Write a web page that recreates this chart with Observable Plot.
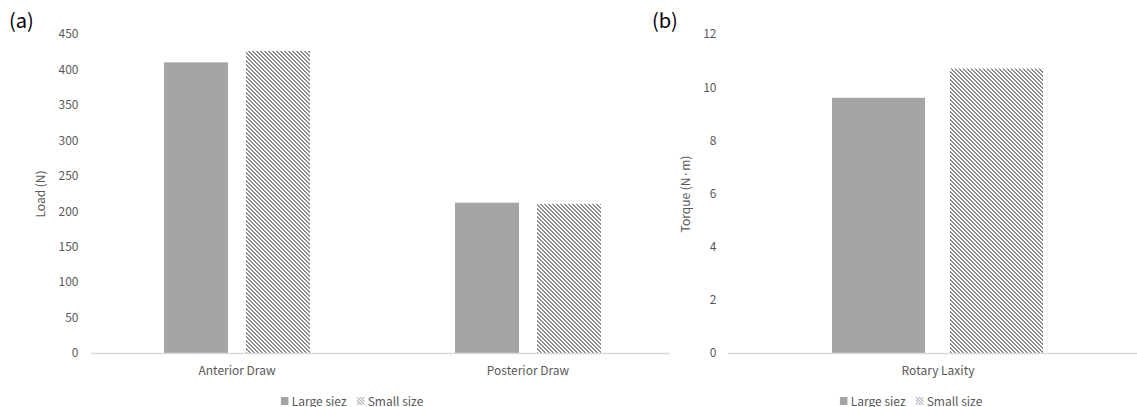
<!DOCTYPE html>
<html>
<head>
<meta charset="utf-8">
<script src="https://cdn.jsdelivr.net/npm/d3@7"></script>
<script src="https://cdn.jsdelivr.net/npm/@observablehq/plot@0.6"></script>
<style>
  html, body { margin: 0; padding: 0; background: #fff; overflow: hidden; }
  body { width: 1137px; height: 407px; position: relative; font-family: "Noto Sans CJK KR", "Noto Sans", sans-serif; color: #595959; }
  .panel { position: absolute; top: 0; overflow: hidden; }
  .panel svg { max-width: none !important; }
  .tag { position: absolute; font-size: 20px; color: #000; line-height: 1; }
  .legend { position: absolute; top: 395px; font-size: 12px; line-height: 12px; color: #595959; display: flex; align-items: center; white-space: nowrap; transform: translateX(-50%); }
  .legend span.item { display: inline-flex; align-items: center; margin: 0 5px; }
  .legend svg { margin-right: 3px; }
</style>
</head>
<body>
<div id="panelA" class="panel" style="left:0px; width:670px; height:385px;"></div>
<div id="panelB" class="panel" style="left:670px; width:467px; height:385px;"></div>
<div class="tag" style="left:9px; top:10px;">(a)</div>
<div class="tag" style="left:652px; top:10px;">(b)</div>
<div id="legendA" class="legend" style="left:352px;"></div>
<div id="legendB" class="legend" style="left:911px;"></div>
<script>
// ---- data ----
const seriesNames = ["Large siez", "Small size"];
const categoriesA = ["Anterior Draw", "Posterior Draw"];
const largeA = [410, 212];
const smallA = [426, 210];
const yTicksA = [0, 50, 100, 150, 200, 250, 300, 350, 400, 450];

const categoriesB = ["Rotary Laxity"];
const largeB = [9.6];
const smallB = [10.7];
const yTicksB = [0, 2, 4, 6, 8, 10, 12];

const GRAY = "#A5A5A5";
const TEXT = "#595959";
const AXIS = "#D9D9D9";

function rows(cats, large, small) {
  const out = [];
  cats.forEach((c, i) => {
    out.push({category: c, series: seriesNames[0], value: large[i]});
    out.push({category: c, series: seriesNames[1], value: small[i]});
  });
  return out;
}

function addPattern(svg, id) {
  const ns = "http://www.w3.org/2000/svg";
  const defs = document.createElementNS(ns, "defs");
  const pat = document.createElementNS(ns, "pattern");
  pat.setAttribute("id", id);
  pat.setAttribute("patternUnits", "userSpaceOnUse");
  pat.setAttribute("width", 4);
  pat.setAttribute("height", 4);
  const bg = document.createElementNS(ns, "rect");
  bg.setAttribute("width", 4); bg.setAttribute("height", 4); bg.setAttribute("fill", "#ffffff");
  pat.appendChild(bg);
  for (let r = 0; r < 4; r++) {
    for (const c of [r, (r + 1) % 4]) {
      const px = document.createElementNS(ns, "rect");
      px.setAttribute("x", c); px.setAttribute("y", r);
      px.setAttribute("width", 1); px.setAttribute("height", 1);
      px.setAttribute("fill", "#8c8c8c");
      px.setAttribute("shape-rendering", "crispEdges");
      pat.appendChild(px);
    }
  }
  defs.appendChild(pat);
  svg.insertBefore(defs, svg.firstChild);
}

function makeChart(opts) {
  const data = rows(opts.categories, opts.large, opts.small);
  const chart = Plot.plot({
    width: opts.width,
    height: 385,
    marginLeft: opts.marginLeft,
    marginRight: opts.marginRight,
    marginTop: 34,
    marginBottom: 32,
    style: {fontFamily: '"Noto Sans CJK KR", "Noto Sans", sans-serif', fontSize: "12px", color: TEXT, background: "transparent", maxWidth: "none"},
    fx: {domain: opts.categories, padding: 0, label: null, axis: "bottom", tickSize: 0, tickPadding: 13},
    x: {domain: seriesNames, paddingInner: opts.pin, paddingOuter: opts.pout, axis: null},
    y: {domain: opts.yDomain, ticks: opts.yTicks, tickSize: 0, tickPadding: opts.tickPad,
        label: opts.yLabel, labelAnchor: "center", labelArrow: "none", labelOffset: opts.labelOffset},
    marks: [
      Plot.barY(data.filter(d => d.series === seriesNames[0]), {fx: "category", x: "series", y: "value", fill: GRAY}),
      Plot.barY(data.filter(d => d.series === seriesNames[1]), {fx: "category", x: "series", y: "value", fill: `url(#${opts.patId})`}),
      Plot.ruleY([0], {stroke: AXIS, strokeWidth: 1.3})
    ]
  });
  addPattern(chart, opts.patId);
  return chart;
}

document.getElementById("panelA").appendChild(makeChart({
  width: 680, marginLeft: 90, marginRight: 7,
  categories: categoriesA, large: largeA, small: smallA,
  pin: 0.22, pout: 0.864, yDomain: [0, 450], yTicks: yTicksA, tickPad: 13,
  yLabel: "Load (N)", labelOffset: 55, patId: "patA"
}));
document.getElementById("panelB").appendChild(makeChart({
  width: 477, marginLeft: 58, marginRight: 0,
  categories: categoriesB, large: largeB, small: smallB,
  pin: 0.21, pout: 0.88, yDomain: [0, 12], yTicks: yTicksB, tickPad: 12,
  yLabel: "Torque (N·m)", labelOffset: 47, patId: "patB"
}));

function legend(el) {
  const sw1 = `<svg width="8" height="8"><rect width="8" height="8" fill="${GRAY}"/></svg>`;
  const sw2 = `<svg width="8" height="8"><defs><pattern id="lp${el.id}" patternUnits="userSpaceOnUse" width="3" height="3"><rect width="3" height="3" fill="#fff"/><rect x="0" y="0" width="1" height="1" fill="#8c8c8c"/><rect x="1" y="1" width="1" height="1" fill="#8c8c8c"/><rect x="2" y="2" width="1" height="1" fill="#8c8c8c"/></pattern></defs><rect width="8" height="8" fill="url(#lp${el.id})"/></svg>`;
  el.innerHTML = `<span class="item">${sw1}${seriesNames[0]}</span><span class="item">${sw2}${seriesNames[1]}</span>`;
}
legend(document.getElementById("legendA"));
legend(document.getElementById("legendB"));
</script>
</body>
</html>
